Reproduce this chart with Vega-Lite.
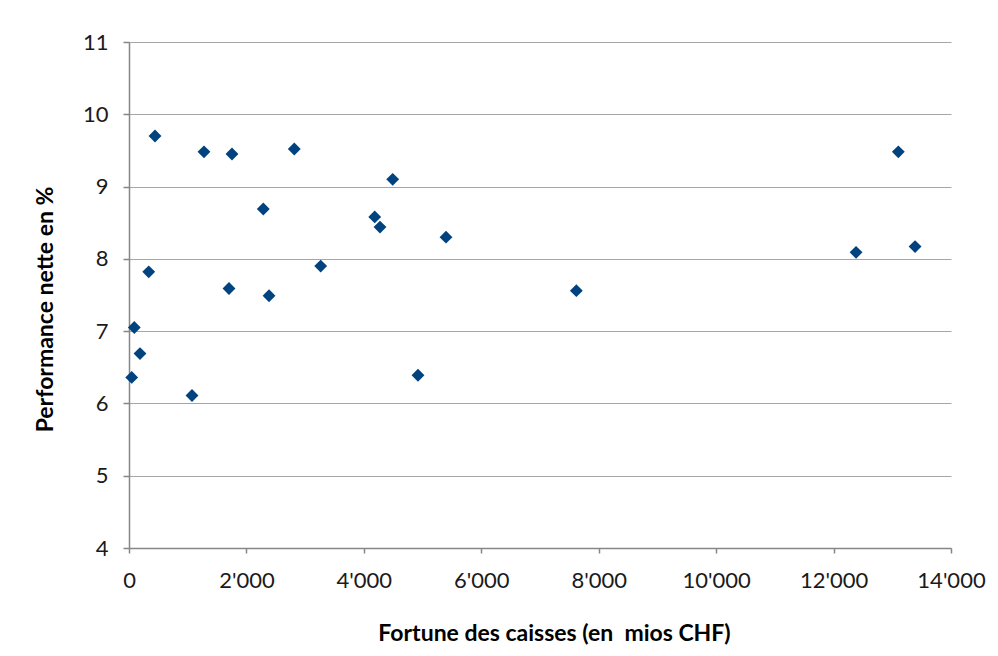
{
  "$schema": "https://vega.github.io/schema/vega-lite/v6.json",
  "autosize": "none",
  "width": 822,
  "height": 506,
  "padding": {"left": 129, "top": 42, "right": 47, "bottom": 108},
  "background": "white",
  "config": {
    "view": {"stroke": null},
    "font": "Lato"
  },
  "data": {
    "values": [
      {"fortune": 46, "perf": 6.36},
      {"fortune": 90, "perf": 7.05},
      {"fortune": 187, "perf": 6.69},
      {"fortune": 336, "perf": 7.82},
      {"fortune": 443, "perf": 9.70},
      {"fortune": 1073, "perf": 6.11},
      {"fortune": 1277, "perf": 9.48},
      {"fortune": 1703, "perf": 7.59},
      {"fortune": 1754, "perf": 9.45},
      {"fortune": 2287, "perf": 8.69},
      {"fortune": 2385, "perf": 7.49},
      {"fortune": 2815, "perf": 9.52},
      {"fortune": 3265, "perf": 7.90},
      {"fortune": 4185, "perf": 8.58},
      {"fortune": 4275, "perf": 8.44},
      {"fortune": 4491, "perf": 9.10},
      {"fortune": 4922, "perf": 6.39},
      {"fortune": 5399, "perf": 8.30},
      {"fortune": 7619, "perf": 7.56},
      {"fortune": 12383, "perf": 8.09},
      {"fortune": 13103, "perf": 9.48},
      {"fortune": 13388, "perf": 8.17}
    ]
  },
  "mark": {"type": "point", "shape": "diamond", "filled": true, "size": 165, "color": "#01437f", "opacity": 1},
  "encoding": {
    "x": {
      "field": "fortune",
      "type": "quantitative",
      "scale": {"domain": [0, 14000], "nice": false, "zero": false},
      "axis": {
        "title": "Fortune des caisses (en\u00a0 mios CHF)",
        "values": [0, 2000, 4000, 6000, 8000, 10000, 12000, 14000],
        "labelExpr": "replace(format(datum.value, ',d'), ',', \"'\")",
        "grid": false,
        "domainColor": "#868686",
        "domainWidth": 1.5,
        "tickColor": "#868686",
        "tickWidth": 1.5,
        "tickSize": 5,
        "labelFont": "Lato",
        "labelFontSize": 22,
        "labelColor": "#1a1a1a",
        "labelBaseline": "alphabetic",
        "labelPadding": 34,
        "labelFlush": false,
        "labelOverlap": false,
        "titleFont": "Lato",
        "titleFontSize": 23,
        "titleFontWeight": "bold",
        "titleColor": "#000000",
        "titleBaseline": "alphabetic",
        "titleAnchor": "start",
        "titleAlign": "center",
        "titleX": 425,
        "titleY": 92
      }
    },
    "y": {
      "field": "perf",
      "type": "quantitative",
      "scale": {"domain": [4, 11], "nice": false, "zero": false},
      "axis": {
        "title": "Performance nette en %",
        "values": [4, 5, 6, 7, 8, 9, 10, 11],
        "grid": true,
        "gridColor": "#a6a6a6",
        "gridWidth": 1.2,
        "domainColor": "#868686",
        "domainWidth": 1.5,
        "tickColor": "#868686",
        "tickWidth": 1.5,
        "tickSize": 6,
        "labelFont": "Lato",
        "labelFontSize": 22,
        "labelColor": "#1a1a1a",
        "labelPadding": 15,
        "labelFlush": false,
        "labelOverlap": false,
        "titleFont": "Lato",
        "titleFontSize": 23,
        "titleFontWeight": "bold",
        "titleColor": "#000000",
        "titleAngle": -90,
        "titleBaseline": "alphabetic",
        "titleAnchor": "start",
        "titleAlign": "center",
        "titleX": -77,
        "titleY": 267
      }
    }
  }
}
